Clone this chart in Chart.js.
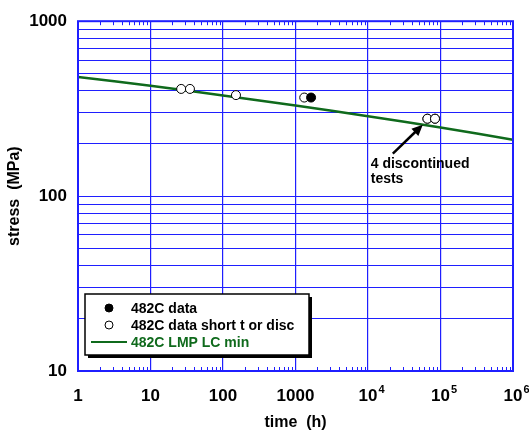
<!DOCTYPE html>
<html>
<head>
<meta charset="utf-8">
<script src="https://cdn.jsdelivr.net/npm/chart.js@4.4.0/dist/chart.umd.min.js"></script>
<style>
    html, body { margin: 0; background: #fff; }
    #wrap { width: 529px; height: 438px; }
</style>
</head>
<body>
<div id="wrap"><canvas id="graficoTensao"></canvas></div>
<script>
// eixos
const timeTicks = [1, 10, 100, 1000, 1e4, 1e5, 1e6];
const timeTickBase = ['1', '10', '100', '1000', '10', '10', '10'];
const timeTickExp = ['', '', '', '', '4', '5', '6'];
const stressTicks = [10, 100, 1000];

// curva LMP LC min
const lmpTime = [1, 10, 100, 1000, 1e4, 1e5, 1e6];
const lmpStress = [480, 428, 376, 330, 286, 247, 210];

// ensaios
const dataTime = [1640];
const dataStress = [366];
const shortTime = [26.5, 35, 151, 1320, 66000, 66000, 84000, 84000];
const shortStress = [410, 410, 378, 366, 277, 277, 277, 277];

// anotação (seta da cauda à ponta, em coordenadas de dados)
const noteLines = ['4 discontinued', 'tests'];
const noteAt = { x: 10900, y: 144 };
const arrowFrom = { x: 22000, y: 175 };
const arrowTo = { x: 57000, y: 256 };

const AZUL = '#1f1fff';
const VERDE = '#0f6a1c';
const FONTE = '"Liberation Sans", Arial, sans-serif';

const pares = (xs, ys) => xs.map((x, i) => ({ x, y: ys[i] }));
const ehDecada = v => Math.abs(Math.log10(v) - Math.round(Math.log10(v))) < 1e-9;

function ticksLog(min, max) {
    const out = [];
    for (let d = min; d < max; d *= 10) {
        for (let k = 1; k < 10; k++) out.push({ value: k * d });
    }
    out.push({ value: max });
    return out;
}

const molduraPlugin = {
    id: 'moldura',
    afterDatasetsDraw(chart) {
        const { ctx, chartArea: a, scales } = chart;
        const x = scales.x;
        ctx.save();
        // marcas menores do eixo x (topo e base)
        ctx.strokeStyle = AZUL;
        ctx.lineWidth = 1;
        for (let d = timeTicks[0]; d < timeTicks[timeTicks.length - 1]; d *= 10) {
            for (let k = 2; k < 10; k++) {
                const px = Math.round(x.getPixelForValue(k * d)) + 0.5;
                ctx.beginPath();
                ctx.moveTo(px, a.bottom); ctx.lineTo(px, a.bottom - 4);
                ctx.moveTo(px, a.top); ctx.lineTo(px, a.top + 4);
                ctx.stroke();
            }
        }
        ctx.lineWidth = 2;
        ctx.strokeRect(a.left, a.top, a.right - a.left, a.bottom - a.top);

        // rótulos do eixo x com expoente
        ctx.fillStyle = '#000';
        ctx.textBaseline = 'alphabetic';
        timeTicks.forEach((v, i) => {
            const px = x.getPixelForValue(v);
            ctx.font = 'bold 17px ' + FONTE;
            ctx.textAlign = 'center';
            ctx.fillText(timeTickBase[i], px, 401);
            if (timeTickExp[i]) {
                const w = ctx.measureText(timeTickBase[i]).width;
                ctx.font = 'bold 11px ' + FONTE;
                ctx.textAlign = 'left';
                ctx.fillText(timeTickExp[i], px + w / 2 + 1, 393);
            }
        });
        ctx.font = 'bold 16px ' + FONTE;
        ctx.textAlign = 'center';
        ctx.fillText('time  (h)', (a.left + a.right) / 2, 427);

        // anotação com seta
        const y = scales.y;
        ctx.font = 'bold 14px ' + FONTE;
        ctx.textAlign = 'left';
        const tx = x.getPixelForValue(noteAt.x), ty = y.getPixelForValue(noteAt.y);
        noteLines.forEach((t, i) => ctx.fillText(t, tx, ty + i * 15));
        const x0 = x.getPixelForValue(arrowFrom.x), y0 = y.getPixelForValue(arrowFrom.y);
        const x1 = x.getPixelForValue(arrowTo.x), y1 = y.getPixelForValue(arrowTo.y);
        const ang = Math.atan2(y1 - y0, x1 - x0);
        ctx.strokeStyle = '#000';
        ctx.lineWidth = 2.5;
        ctx.beginPath();
        ctx.moveTo(x0, y0);
        ctx.lineTo(x1 - 8 * Math.cos(ang), y1 - 8 * Math.sin(ang));
        ctx.stroke();
        ctx.beginPath();
        ctx.moveTo(x1, y1);
        ctx.lineTo(x1 - 11 * Math.cos(ang) + 5 * Math.sin(ang), y1 - 11 * Math.sin(ang) - 5 * Math.cos(ang));
        ctx.lineTo(x1 - 11 * Math.cos(ang) - 5 * Math.sin(ang), y1 - 11 * Math.sin(ang) + 5 * Math.cos(ang));
        ctx.closePath();
        ctx.fillStyle = '#000';
        ctx.fill();

        // legenda com sombra
        const bx = 85, by = 294, bw = 224, bh = 61;
        ctx.fillStyle = '#000';
        ctx.fillRect(bx + 3, by + 3, bw, bh);
        ctx.fillStyle = '#fff';
        ctx.fillRect(bx, by, bw, bh);
        ctx.lineWidth = 1.5;
        ctx.strokeRect(bx, by, bw, bh);
        ctx.font = 'bold 14px ' + FONTE;
        ctx.textBaseline = 'middle';
        chart.data.datasets.forEach((ds, i) => {
            const ly = by + 14 + i * 17;
            if (ds.showLine) {
                ctx.strokeStyle = ds.borderColor;
                ctx.lineWidth = 2;
                ctx.beginPath();
                ctx.moveTo(91, ly); ctx.lineTo(127, ly);
                ctx.stroke();
            } else {
                ctx.beginPath();
                ctx.arc(109, ly, 4, 0, Math.PI * 2);
                ctx.fillStyle = ds.backgroundColor;
                ctx.fill();
                ctx.strokeStyle = '#000';
                ctx.lineWidth = 1;
                ctx.stroke();
            }
            ctx.fillStyle = ds.showLine ? ds.borderColor : '#000';
            ctx.fillText(ds.label, 131, ly + 1);
        });
        ctx.restore();
    }
};

const fundoBranco = {
    id: 'fundoBranco',
    beforeDraw(chart) {
        const { ctx, width, height } = chart;
        ctx.save();
        ctx.fillStyle = '#fff';
        ctx.fillRect(0, 0, width, height);
        ctx.restore();
    }
};

Chart.defaults.font.family = FONTE;
Chart.defaults.color = '#000';

const ctx = document.getElementById('graficoTensao').getContext('2d');
new Chart(ctx, {
    type: 'scatter',
    data: {
        datasets: [{
            label: '482C data',
            data: pares(dataTime, dataStress),
            backgroundColor: '#000',
            borderColor: '#000',
            borderWidth: 1,
            pointRadius: 4.5
        }, {
            label: '482C data short t or disc',
            data: pares(shortTime, shortStress),
            backgroundColor: '#fff',
            borderColor: '#000',
            borderWidth: 1,
            pointRadius: 4.5
        }, {
            label: '482C LMP LC min',
            data: pares(lmpTime, lmpStress),
            showLine: true,
            borderColor: VERDE,
            borderWidth: 2.5,
            pointRadius: 0,
            tension: 0.3
        }]
    },
    options: {
        responsive: true,
        maintainAspectRatio: false,
        animation: false,
        layout: { padding: { top: 17, right: 16, left: 0, bottom: 0 } },
        plugins: { legend: { display: false }, tooltip: { enabled: false } },
        scales: {
            x: {
                type: 'logarithmic',
                min: 1,
                max: 1e6,
                afterBuildTicks: s => { s.ticks = ticksLog(1, 1e6); },
                afterFit: s => { s.height = 67; },
                ticks: { display: false, autoSkip: false },
                border: { display: false },
                grid: {
                    drawTicks: false,
                    color: c => (c.tick && ehDecada(c.tick.value)) ? AZUL : 'rgba(0,0,0,0)',
                    lineWidth: 1.2
                }
            },
            y: {
                type: 'logarithmic',
                min: 10,
                max: 1000,
                afterBuildTicks: s => { s.ticks = ticksLog(10, 1000); },
                afterFit: s => { s.width = 78; },
                ticks: {
                    autoSkip: false,
                    padding: 11,
                    font: { size: 17, weight: 'bold' },
                    callback: v => stressTicks.includes(v) ? String(v) : ''
                },
                border: { display: false },
                grid: { drawTicks: false, color: AZUL, lineWidth: 1 },
                title: {
                    display: true,
                    text: 'stress  (MPa)',
                    font: { size: 16, weight: 'bold' },
                    padding: { top: 5, bottom: 0 }
                }
            }
        }
    },
    plugins: [fundoBranco, molduraPlugin]
});
</script>
</body>
</html>
